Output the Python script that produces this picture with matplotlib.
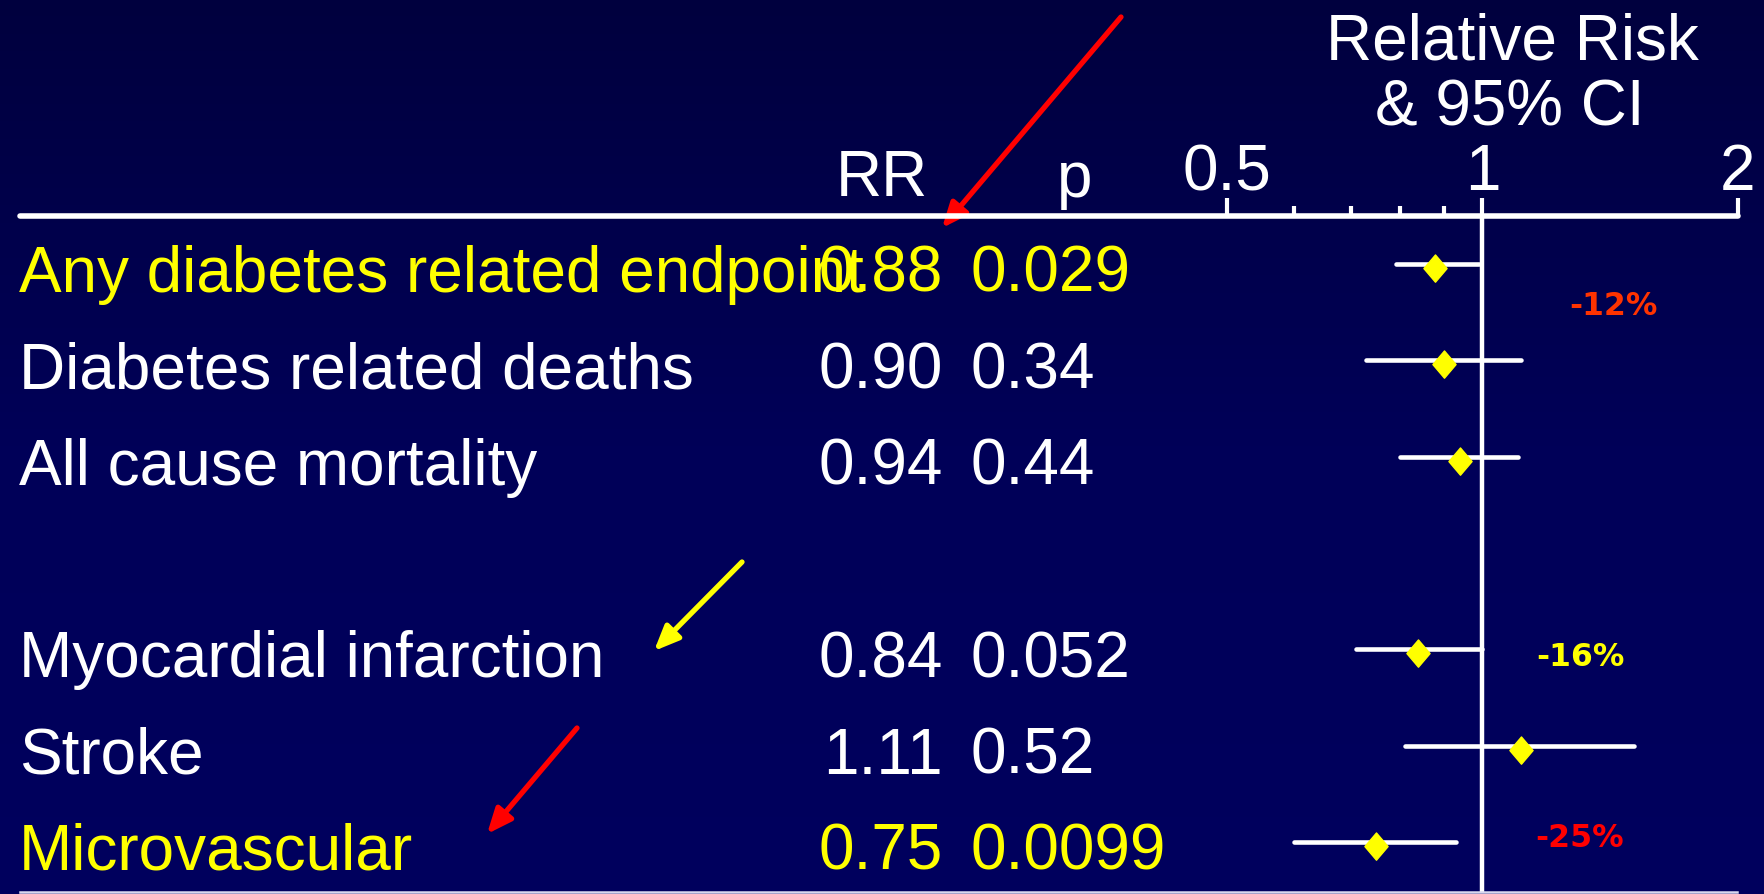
import numpy as np
import matplotlib
matplotlib.use('Agg')
import matplotlib.pyplot as plt
from matplotlib.colors import LinearSegmentedColormap
from matplotlib.lines import Line2D
from matplotlib.path import Path
from matplotlib.ticker import FixedLocator, NullFormatter
import matplotlib.transforms as mtransforms

# UKPDS 33 outcomes, intensive vs conventional therapy
labels = ['Any diabetes related endpoint', 'Diabetes related deaths', 'All cause mortality',
          'Myocardial infarction', 'Stroke', 'Microvascular']
group = [0, 0, 0, 1, 1, 1]
rr = [0.88, 0.90, 0.94, 0.84, 1.11, 0.75]
ci_lo = [0.79, 0.73, 0.80, 0.71, 0.81, 0.60]
ci_hi = [0.99, 1.11, 1.10, 1.00, 1.51, 0.93]
p_vals = ['0.029', '0.34', '0.44', '0.052', '0.52', '0.0099']
highlight = [True, False, False, False, False, True]

# risk reduction callouts: which outcome, colour
callouts = [(0, '#ff3300'), (3, '#ffff00'), (5, '#ff0000')]

W, H = 1765, 895
FONT = 'Liberation Sans'
YELLOW = '#ffff00'

fig = plt.figure(figsize=(W / 100, H / 100), dpi=100)

# dark navy background, slightly lighter towards the bottom
bg = fig.add_axes([0, 0, 1, 1])
navy = LinearSegmentedColormap.from_list('navy', ['#00003e', '#000058', '#00005e'])
bg.imshow(np.linspace(0, 1, 256).reshape(-1, 1), aspect='auto', cmap=navy, extent=[0, 1, 0, 1])
bg.set_axis_off()

# forest plot panel, log scale from 0.5 to 2
ax = fig.add_axes([1227 / W, 1 - 893 / H, (1738 - 1227) / W, (893 - 217) / H])
ax.patch.set_alpha(0)
ax.set_xscale('log')
ax.set_xlim(0.5, 2)
ax.set_ylim(6.519, -0.498)
for s in ax.spines.values():
    s.set_visible(False)
ax.yaxis.set_visible(False)

ax.xaxis.set_major_locator(FixedLocator([0.5, 1, 2]))
ax.set_xticklabels(['0.5', '1', '2'])
ax.xaxis.set_minor_locator(FixedLocator([0.6, 0.7, 0.8, 0.9]))
ax.xaxis.set_minor_formatter(NullFormatter())
ax.tick_params(axis='x', which='both', top=True, bottom=False, labeltop=True,
               labelbottom=False, direction='out', color='white', width=3)
ax.tick_params(axis='x', which='major', length=13, pad=-3, labelsize=46, labelcolor='white')
ax.tick_params(axis='x', which='minor', length=7)
for t in ax.get_xticklabels():
    t.set_fontfamily(FONT)

ax.axvline(1, color='white', lw=3.2, zorder=2)

rows = [i + g for i, g in enumerate(group)]

# diamond marker sitting a touch below the CI bar
diamond = Path([(0, 0.7), (0.85, -0.3), (0, -1.3), (-0.85, -0.3), (0, 0.7)],
               [Path.MOVETO, Path.LINETO, Path.LINETO, Path.LINETO, Path.CLOSEPOLY])

for y, r, lo, hi in zip(rows, rr, ci_lo, ci_hi):
    ax.plot([lo, hi], [y, y], color='white', lw=3.3, solid_capstyle='round', zorder=3)
    ax.plot([r], [y], marker=diamond, markersize=25.5, color=YELLOW, mec=YELLOW,
            lw=0, zorder=4)

# text columns: outcome, RR, p
tr = mtransforms.blended_transform_factory(fig.transFigure, ax.transData)
base = 0.28
for y, name, r, p, hl in zip(rows, labels, rr, p_vals, highlight):
    c = YELLOW if hl else 'white'
    ax.text(19 / W, y + base, name, transform=tr, color=c, fontsize=46,
            family=FONT, ha='left', va='baseline')
    ax.text(943 / W, y + base, f'{r:.2f}', transform=tr, color=c, fontsize=46,
            family=FONT, ha='right', va='baseline')
    ax.text(971 / W, y + base, p, transform=tr, color=c, fontsize=46,
            family=FONT, ha='left', va='baseline')

# percentage risk reduction, placed relative to the outcome's row
callout_pos = {0: (1.425, 0.52), 3: (1.303, 0.16), 5: (1.303, 0.04)}
for idx, col in callouts:
    x, dy = callout_pos[idx]
    pct = round((rr[idx] - 1) * 100)
    ax.text(x, rows[idx] + dy, f'{pct}%', color=col, fontsize=22.7, family='DejaVu Sans',
            fontweight='bold', ha='center', va='baseline')

# headers
fig.text(881.5 / W, 1 - 196 / H, 'RR', color='white', fontsize=46, family=FONT,
         ha='center', va='baseline')
fig.text(1075 / W, 1 - 197 / H, 'p', color='white', fontsize=46, family=FONT,
         ha='center', va='baseline')
fig.text(1512 / W, 1 - 60 / H, 'Relative Risk', color='white', fontsize=46, family=FONT,
         ha='center', va='baseline')
fig.text(1510 / W, 1 - 125 / H, '& 95% CI', color='white', fontsize=46, family=FONT,
         ha='center', va='baseline')

# table rules
fig.add_artist(Line2D([20 / W, 1738 / W], [1 - 217 / H] * 2, transform=fig.transFigure,
                      color='white', lw=4, solid_capstyle='round'))
fig.add_artist(Line2D([20 / W, 1737 / W], [1 - 893 / H] * 2, transform=fig.transFigure,
                      color='#d8d8f0', lw=1.8))

# pointer arrows
arrows = [((1121, 18), (942, 229), '#ff0000'),
          ((742, 563), (654, 652), YELLOW),
          ((577, 729), (487, 835), '#ff0000')]
for (x0, y0), (x1, y1), col in arrows:
    ax.annotate('', xy=(x1, H - y1), xytext=(x0, H - y0),
                xycoords='figure pixels', textcoords='figure pixels',
                arrowprops=dict(arrowstyle='-|>,head_length=0.75,head_width=0.32',
                                mutation_scale=20, color=col, lw=3.8,
                                shrinkA=0, shrinkB=0))

fig.savefig('out.png', dpi=100, facecolor='#000048')
